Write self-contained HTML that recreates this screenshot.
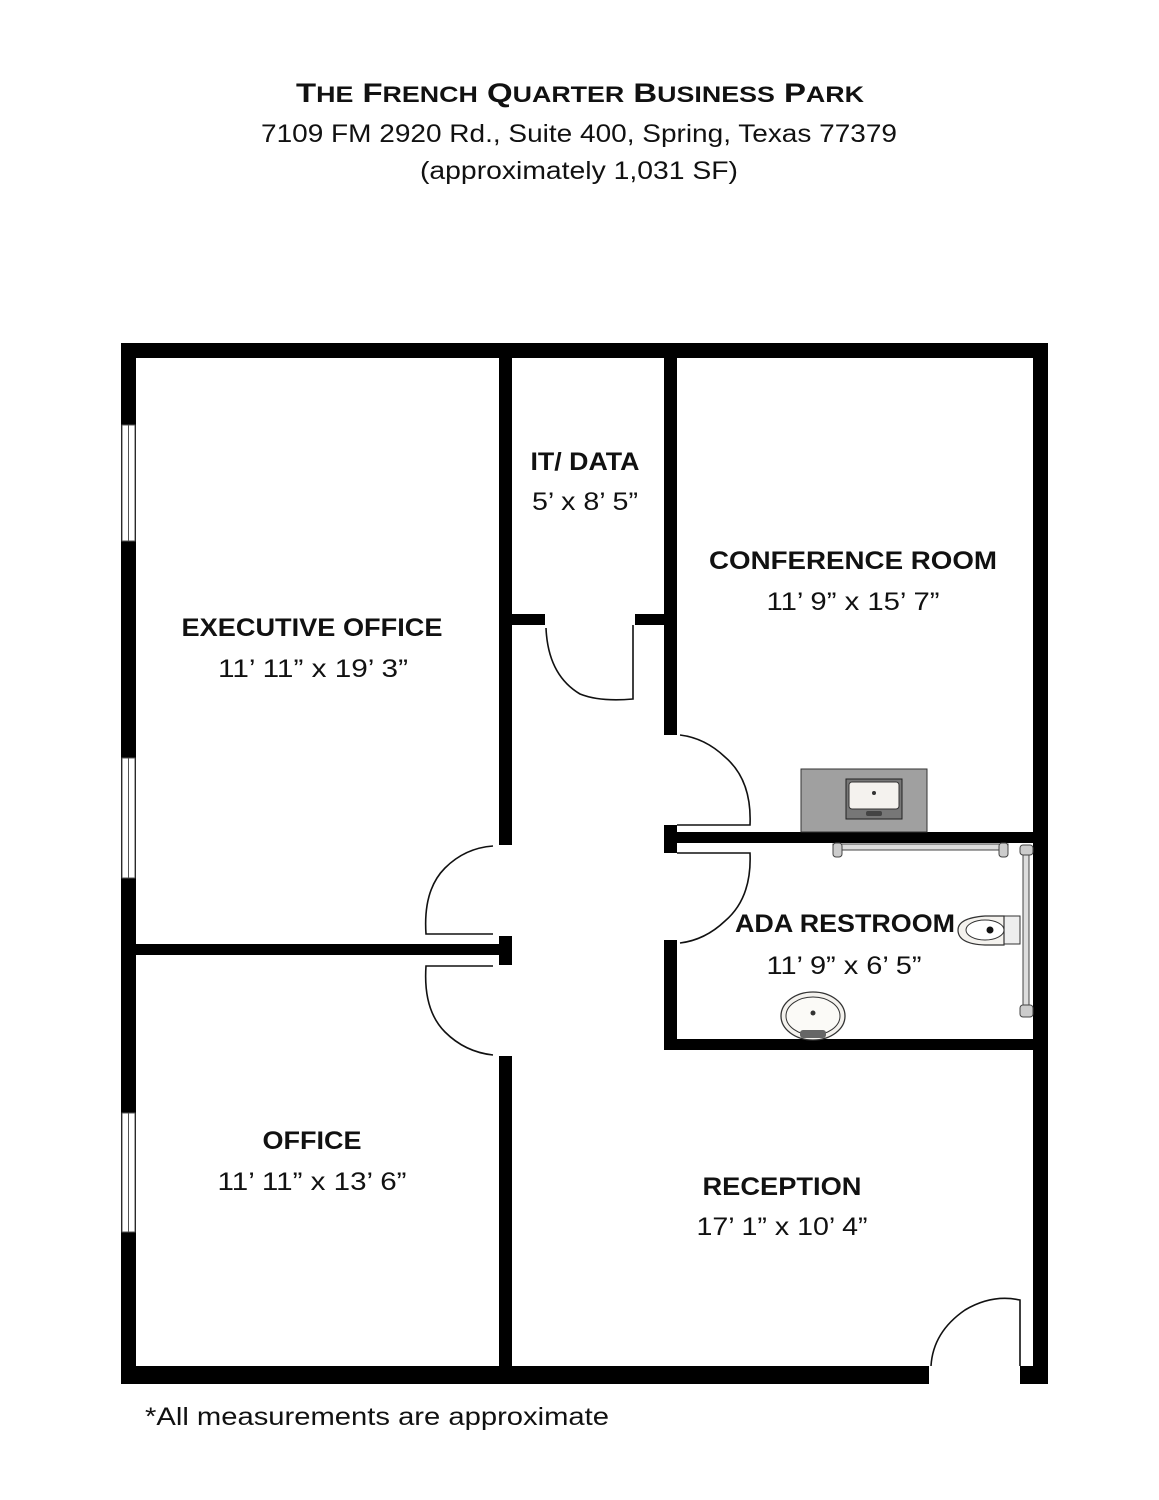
<!DOCTYPE html>
<html><head><meta charset="utf-8"><style>
html,body{margin:0;padding:0;background:#fff;}
svg{display:block;}
text{font-family:"Liberation Sans",sans-serif;fill:#111;}
.b{font-weight:bold;}
</style></head><body>
<svg width="1159" height="1500" viewBox="0 0 1159 1500" xmlns="http://www.w3.org/2000/svg">
<!-- titles -->
<text x="580" y="102" text-anchor="middle" class="b" font-size="27" textLength="568" lengthAdjust="spacingAndGlyphs">T<tspan font-size="22">HE</tspan> F<tspan font-size="22">RENCH</tspan> Q<tspan font-size="22">UARTER</tspan> B<tspan font-size="22">USINESS</tspan> P<tspan font-size="22">ARK</tspan></text>
<text x="579" y="142" text-anchor="middle" font-size="25" textLength="636" lengthAdjust="spacingAndGlyphs">7109 FM 2920 Rd., Suite 400, Spring, Texas 77379</text>
<text x="579" y="179" text-anchor="middle" font-size="25" textLength="318" lengthAdjust="spacingAndGlyphs">(approximately 1,031 SF)</text>

<g fill="#000">
<!-- outer walls -->
<rect x="121" y="343" width="927" height="15"/>
<rect x="121" y="343" width="15" height="1041"/>
<rect x="1033" y="343" width="15" height="1041"/>
<rect x="121" y="1366" width="808" height="18"/>
<rect x="1020" y="1366" width="28" height="18"/>
<!-- exec/IT wall -->
<rect x="499" y="358" width="13" height="487"/>
<rect x="499" y="936" width="13" height="29"/>
<rect x="499" y="1056" width="13" height="310"/>
<rect x="136" y="944" width="363" height="11"/>
<!-- IT right wall -->
<rect x="664" y="358" width="13" height="377"/>
<rect x="512" y="614" width="33" height="11"/>
<rect x="635" y="614" width="29" height="11"/>
<!-- restroom -->
<rect x="664" y="832" width="369" height="11"/>
<rect x="664" y="825" width="13" height="28"/>
<rect x="664" y="940" width="13" height="110"/>
<rect x="664" y="1039" width="369" height="11"/>
</g>
<!-- windows -->
<g fill="#fff" stroke="#555" stroke-width="1">
<rect x="122" y="425" width="13" height="116"/>
<rect x="122" y="758" width="13" height="120"/>
<rect x="122" y="1113" width="13" height="119"/>
</g>
<g stroke="#555" stroke-width="1">
<line x1="128.5" y1="425" x2="128.5" y2="541"/>
<line x1="128.5" y1="758" x2="128.5" y2="878"/>
<line x1="128.5" y1="1113" x2="128.5" y2="1232"/>
</g>
<!-- doors -->
<g fill="none" stroke="#111" stroke-width="1.6">
<!-- IT door -->
<path d="M633 625 V699 Q600 702 580 694 Q548 675 546 628"/>
<!-- conference door -->
<path d="M677 825 H750 Q752 780 725 757 Q705 738 680 735"/>
<!-- restroom door -->
<path d="M677 853 H750 Q752 898 725 921 Q705 940 680 943"/>
<!-- exec door -->
<path d="M493 934 H426 Q423 890 445 868 Q465 848 493 846"/>
<!-- office door -->
<path d="M493 966 H426 Q423 1010 445 1032 Q465 1052 493 1055"/>
<!-- entry door -->
<path d="M1020 1366 V1300 Q992 1294 965 1310 Q933 1332 931 1366"/>
</g>
<!-- counter sink -->
<rect x="801" y="769" width="126" height="63" fill="#a0a0a0" stroke="#333" stroke-width="1"/>
<rect x="846" y="779" width="56" height="40" fill="#777" stroke="#222" stroke-width="1"/>
<rect x="849" y="782" width="50" height="27" rx="3" fill="#f4f2ee" stroke="#333" stroke-width="1"/>
<circle cx="874" cy="793" r="2" fill="#333"/>
<rect x="866" y="811" width="16" height="5" rx="2" fill="#444"/>
<!-- grab bars -->
<rect x="833" y="844" width="175" height="6" fill="#ddd" stroke="#444" stroke-width="1"/>
<rect x="833" y="843" width="9" height="14" rx="3" fill="#ccc" stroke="#444" stroke-width="1"/>
<rect x="999" y="843" width="9" height="14" rx="3" fill="#ccc" stroke="#444" stroke-width="1"/>
<rect x="1023" y="846" width="6" height="170" fill="#ddd" stroke="#444" stroke-width="1"/>
<rect x="1020" y="845" width="13" height="10" rx="3" fill="#ccc" stroke="#444" stroke-width="1"/>
<rect x="1020" y="1005" width="13" height="12" rx="3" fill="#ccc" stroke="#444" stroke-width="1"/>
<!-- toilet -->
<rect x="1004" y="916" width="16" height="28" fill="#eee" stroke="#333" stroke-width="1"/>
<path d="M1004 916 H985 Q958 918 958 930 Q958 944 985 945 H1004 Z" fill="#f4f2ee" stroke="#333" stroke-width="1.2"/>
<ellipse cx="985" cy="930" rx="19" ry="10" fill="#fff" stroke="#333" stroke-width="1"/>
<circle cx="990" cy="930" r="3.5" fill="#111"/>
<!-- sink -->
<ellipse cx="813" cy="1016" rx="32" ry="24" fill="#f4f2ee" stroke="#333" stroke-width="1.3"/>
<ellipse cx="813" cy="1016" rx="27" ry="19" fill="#fbfaf7" stroke="#333" stroke-width="1"/>
<circle cx="813" cy="1013" r="2.5" fill="#333"/>
<rect x="800" y="1030" width="26" height="8" rx="3" fill="#666"/>

<!-- labels -->
<g class="b" font-size="25" text-anchor="middle">
<text x="312" y="636" textLength="261" lengthAdjust="spacingAndGlyphs">EXECUTIVE OFFICE</text>
<text x="585" y="470" textLength="109" lengthAdjust="spacingAndGlyphs">IT/ DATA</text>
<text x="853" y="569" textLength="288" lengthAdjust="spacingAndGlyphs">CONFERENCE ROOM</text>
<text x="845" y="932" textLength="220" lengthAdjust="spacingAndGlyphs">ADA RESTROOM</text>
<text x="312" y="1149" textLength="99" lengthAdjust="spacingAndGlyphs">OFFICE</text>
<text x="782" y="1195" textLength="159" lengthAdjust="spacingAndGlyphs">RECEPTION</text>
</g>
<g font-size="25" text-anchor="middle">
<text x="313" y="677" textLength="190" lengthAdjust="spacingAndGlyphs">11’ 11” x 19’ 3”</text>
<text x="585" y="510" textLength="106" lengthAdjust="spacingAndGlyphs">5’ x 8’ 5”</text>
<text x="853" y="610" textLength="173" lengthAdjust="spacingAndGlyphs">11’ 9” x 15’ 7”</text>
<text x="844" y="974" textLength="155" lengthAdjust="spacingAndGlyphs">11’ 9” x 6’ 5”</text>
<text x="312" y="1190" textLength="189" lengthAdjust="spacingAndGlyphs">11’ 11” x 13’ 6”</text>
<text x="782" y="1235" textLength="171" lengthAdjust="spacingAndGlyphs">17’ 1” x 10’ 4”</text>
</g>
<text x="145" y="1425" font-size="25" textLength="464" lengthAdjust="spacingAndGlyphs">*All measurements are approximate</text>
</svg>
</body></html>
